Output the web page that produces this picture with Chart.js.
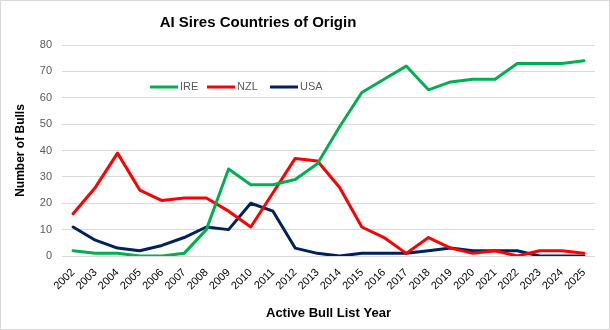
<!DOCTYPE html>
<html>
<head>
<meta charset="utf-8">
<script src="https://cdn.jsdelivr.net/npm/chart.js@4"></script>
<style>
  html, body { margin: 0; padding: 0; background: #fff; }
  #wrap { position: relative; width: 608px; height: 328px; border: 1px solid #d9d9d9; }
</style>
</head>
<body>
<div id="wrap"><canvas id="chart" width="608" height="328"></canvas></div>
<script>
// data
const years = ['2002','2003','2004','2005','2006','2007','2008','2009','2010','2011','2012','2013',
  '2014','2015','2016','2017','2018','2019','2020','2021','2022','2023','2024','2025'];
const ire = [2, 1, 1, 0, 0, 1, 10, 33, 27, 27, 29, 35, 49, 62, 67, 72, 63, 66, 67, 67, 73, 73, 73, 74];
const nzl = [16, 26, 39, 25, 21, 22, 22, 17, 11, 24, 37, 36, 26, 11, 7, 1, 7, 3, 1, 2, 0, 2, 2, 1];
const usa = [11, 6, 3, 2, 4, 7, 11, 10, 20, 17, 3, 1, 0, 1, 1, 1, 2, 3, 2, 2, 2, 0, 0, 0];
const yTicks = [0, 10, 20, 30, 40, 50, 60, 70, 80];

const FONT = '"Liberation Sans", Arial, sans-serif';

// title and in-plot legend drawn by hand, Excel style
const decor = {
  id: 'decor',
  afterDraw(chart) {
    const c = chart.ctx;
    c.save();
    c.fillStyle = '#000';
    c.font = 'bold 15px ' + FONT;
    c.textAlign = 'center';
    c.textBaseline = 'middle';
    c.fillText('AI Sires Countries of Origin', 257, 22);

    const legX = [149, 206, 269];
    c.font = '11px ' + FONT;
    c.textAlign = 'left';
    chart.data.datasets.forEach((ds, i) => {
      c.strokeStyle = ds.borderColor;
      c.lineWidth = 3;
      c.beginPath();
      c.moveTo(legX[i], 86);
      c.lineTo(legX[i] + 28, 86);
      c.stroke();
      c.fillStyle = '#595959';
      c.fillText(ds.label, legX[i] + 30, 86);
    });
    c.restore();
  }
};

new Chart(document.getElementById('chart'), {
  type: 'line',
  data: {
    labels: years,
    datasets: [
      { label: 'IRE', data: ire, borderColor: '#00b050' },
      { label: 'NZL', data: nzl, borderColor: '#ff0000' },
      { label: 'USA', data: usa, borderColor: '#002060' }
    ]
  },
  options: {
    responsive: false,
    animation: false,
    layout: { padding: { left: 8, right: 14, top: 44, bottom: 0 } },
    elements: {
      line: { borderWidth: 3, tension: 0, borderCapStyle: 'round', borderJoinStyle: 'round' },
      point: { radius: 0 }
    },
    plugins: { legend: { display: false }, title: { display: false }, tooltip: { enabled: false } },
    scales: {
      x: {
        offset: true,
        grid: { display: false },
        border: { display: false },
        ticks: { color: '#000', font: { size: 11, family: FONT }, minRotation: 45, maxRotation: 45,
          autoSkip: false, padding: 2 },
        title: { display: true, text: 'Active Bull List Year', color: '#000',
          font: { size: 13, weight: 'bold', family: FONT }, padding: { top: 0, bottom: 8 } },
        afterFit(s) { s.height = 73; }
      },
      y: {
        min: 0, max: 80,
        afterBuildTicks(s) { s.ticks = yTicks.map(v => ({ value: v })); },
        grid: { color: '#d9d9d9', lineWidth: 1, drawTicks: false },
        border: { display: false },
        ticks: { color: '#595959', font: { size: 11, family: FONT }, padding: 10 },
        title: { display: true, text: 'Number of Bulls', color: '#000',
          font: { size: 12, weight: 'bold', family: FONT }, padding: { top: 4, bottom: 0 } },
        afterFit(s) { s.width = 53; }
      }
    }
  },
  plugins: [decor]
});
</script>
</body>
</html>
